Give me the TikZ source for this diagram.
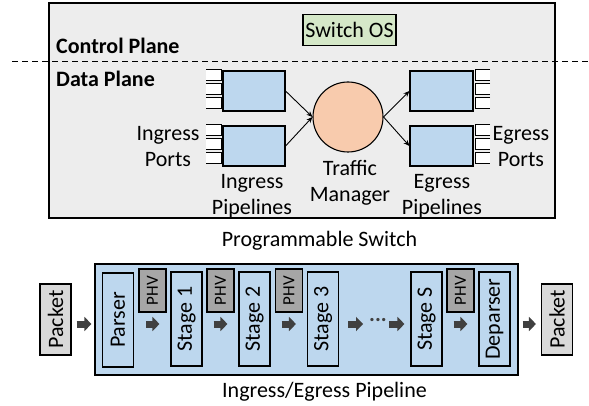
\documentclass[tikz,border=0pt]{standalone}
\usepackage{fontspec}
\setmainfont{Carlito}
\usetikzlibrary{arrows.meta,calc}
\definecolor{swgrey}{RGB}{237,237,237}
\definecolor{pipeblue}{RGB}{189,215,238}
\definecolor{osgreen}{RGB}{213,232,200}
\definecolor{tmorange}{RGB}{248,203,173}
\definecolor{phvgrey}{RGB}{166,166,166}
\definecolor{pktgrey}{RGB}{217,217,217}
\definecolor{arrowdark}{RGB}{64,64,64}
\tikzset{
  txt/.style={font=\fontsize{22}{26}\selectfont, inner sep=0pt, align=center},
  bluebox/.style={draw, line width=1.1pt, fill=pipeblue, inner sep=0pt},
  vbox/.style={draw, line width=1.1pt, fill=pipeblue, rotate=90, inner sep=0pt,
    minimum width=94pt, minimum height=31pt, font=\fontsize{22}{26}\selectfont},
  phvbox/.style={draw, line width=1.1pt, fill=phvgrey, rotate=90, inner sep=0pt,
    minimum width=43pt, minimum height=27pt, font=\fontsize{17}{19}\selectfont},
  pktbox/.style={draw, line width=1.1pt, fill=pktgrey, rotate=90, inner sep=0pt,
    minimum width=71pt, minimum height=31pt, font=\fontsize{22}{26}\selectfont},
  portbox/.style={fill=white},
  thin/.style={line width=0.9pt, -{Stealth[length=6pt,width=5pt]}},
  blk/.style={line width=7pt, draw=arrowdark, -{Triangle[length=7pt,width=14pt]}},
}
\begin{document}
\begin{tikzpicture}[x=1pt,y=-1pt]
\useasboundingbox (0,0) rectangle (589,406);

% switch enclosure and plane separator
\node[draw, line width=1.2pt, fill=swgrey, inner sep=0pt, minimum width=506pt,
      minimum height=215pt] (switch) at (302,110.5) {};
\coordinate (sepL) at (12,62);
\coordinate (sepR) at (589,62);
\draw[line width=1pt, dash pattern=on 6pt off 4pt] (sepL) -- (sepR);

\node[txt, font=\fontsize{22}{26}\selectfont\bfseries, anchor=west] (cp) at (56,46) {Control Plane};
\node[txt, font=\fontsize{22}{26}\selectfont\bfseries, anchor=west] (dp) at (56,79) {Data Plane};

\node[draw, line width=1.1pt, fill=osgreen, minimum width=93pt, minimum height=31pt,
      inner sep=0pt, font=\fontsize{22}{26}\selectfont] (os) at (349.5,30) {Switch OS};

% pipelines and traffic manager
\node[bluebox, minimum width=62pt, minimum height=40pt] (ip1) at (254,91) {};
\node[bluebox, minimum width=62pt, minimum height=40pt] (ip2) at (254,146) {};
\node[bluebox, minimum width=63pt, minimum height=40pt] (ep1) at (441.5,91) {};
\node[bluebox, minimum width=63pt, minimum height=40pt] (ep2) at (441.5,146) {};
\node[circle, draw, line width=1.1pt, fill=tmorange, minimum size=70pt, inner sep=0pt] (tm) at (348,117) {};

% ports: open towards the outside of the switch
\foreach \y in {70,84,98,125,139,153} {
  \path[portbox] (206,\y) rectangle (221,\y+11);
  \draw[line width=1pt] (206,\y) -- (221,\y) -- (221,\y+11) -- (206,\y+11);
  \path[portbox] (475,\y) rectangle (490,\y+11);
  \draw[line width=1pt] (490,\y) -- (475,\y) -- (475,\y+11) -- (490,\y+11);
}

\draw[thin] (ip1.east) -- (tm.west);
\draw[thin] (ip2.east) -- (tm.west);
\draw[thin] (tm.east) -- (ep1.west);
\draw[thin] (tm.east) -- (ep2.west);

\node[txt] (inports) at (168,147) {Ingress\\Ports};
\node[txt] (inpipes) at (252,196) {Ingress\\Pipelines};
\node[txt] (tmlabel) at (350,183) {Traffic\\Manager};
\node[txt] (egpipes) at (442,196) {Egress\\Pipelines};
\node[txt] (egports) at (521,147) {Egress\\Ports};

\node[txt] (swlabel) at (319.5,241) {Programmable Switch};

% pipeline detail
\node[draw, line width=1.2pt, fill=pipeblue, inner sep=0pt, minimum width=423pt,
      minimum height=111pt] (pipe) at (306.5,319.5) {};
\node[txt] (pipelabel) at (324.5,392) {Ingress/Egress Pipeline};

\node[pktbox] (pkt1) at (55.5,319.5) {Packet};
\node[pktbox] (pkt2) at (557,319.5) {Packet};

\node[vbox] (parser) at (118,320) {Parser};
\node[vbox] (s1) at (186.5,319) {Stage 1};
\node[vbox] (s2) at (254.5,319) {Stage 2};
\node[vbox] (s3) at (323,319) {Stage 3};
\node[vbox] (sS) at (426.5,319) {Stage S};
\node[vbox] (dep) at (494.5,319) {Deparser};

\node[phvbox] (phv1) at (152.5,290.5) {PHV};
\node[phvbox] (phv2) at (220.5,290.5) {PHV};
\node[phvbox] (phv3) at (289,290.5) {PHV};
\node[phvbox] (phv4) at (460.5,290.5) {PHV};

\node[txt, text=arrowdark] (dots) at (378,320) {\textbf{...}};

\draw[blk] ($(pkt1.south)+(5,4.5)$) -- ($(pipe.west |- pkt1.south)+(-3,4.5)$);
\draw[blk] ($(parser.south)+(12,4)$) -- ($(s1.north)+(-11,5)$);
\draw[blk] ($(s1.south)+(11,5)$) -- ($(s2.north)+(-11,5)$);
\draw[blk] ($(s2.south)+(11,5)$) -- ($(s3.north)+(-11,5)$);
\draw[blk] ($(s3.south)+(9,5)$) -- ($(s3.south)+(24,5)$);
\draw[blk] ($(sS.north)+(-21,5)$) -- ($(sS.north)+(-6,5)$);
\draw[blk] ($(sS.south)+(11,5)$) -- ($(dep.north)+(-11,5)$);
\draw[blk] ($(pipe.east |- pkt2.north)+(4,4.5)$) -- ($(pkt2.north)+(-5,4.5)$);
\end{tikzpicture}
\end{document}
